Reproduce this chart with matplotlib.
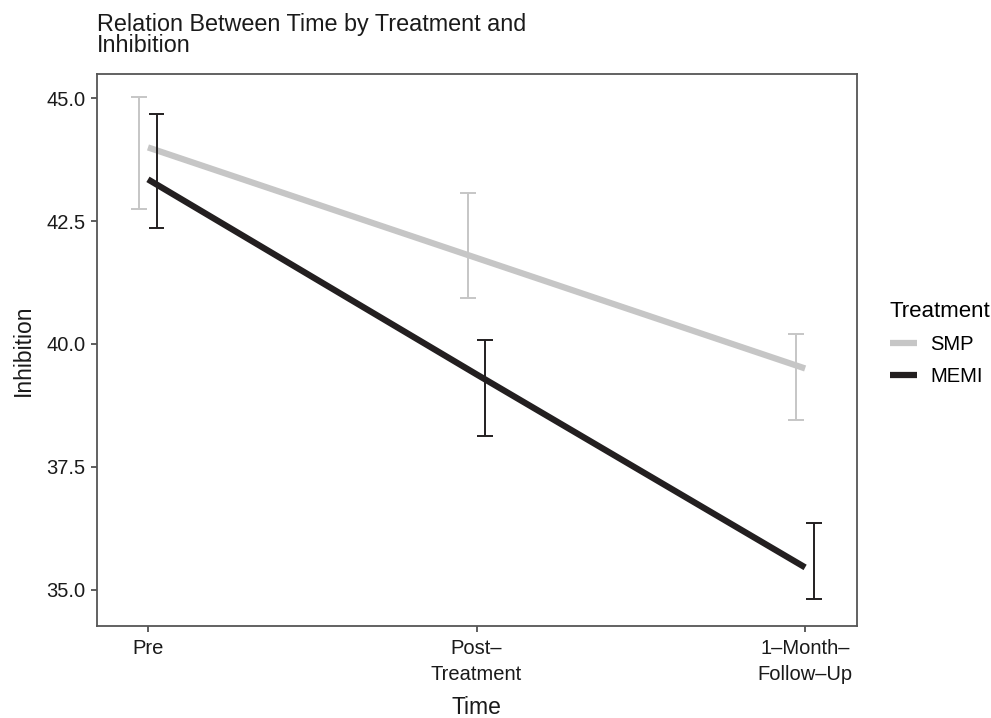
import matplotlib
matplotlib.use("Agg")
import matplotlib.pyplot as plt
import numpy as np

plt.rcParams['font.family'] = ['Liberation Sans', 'DejaVu Sans']

times = ["Pre", "Post–\nTreatment", "1–Month–\nFollow–Up"]
groups = ["SMP", "MEMI"]
means = {"SMP": [44.0, 41.75, 39.5], "MEMI": [43.35, 39.38, 35.45]}
err_low = {"SMP": [42.75, 40.94, 38.46], "MEMI": [42.35, 38.12, 34.81]}
err_high = {"SMP": [45.03, 43.07, 40.21], "MEMI": [44.69, 40.08, 36.36]}
colors = {"SMP": "#c6c6c6", "MEMI": "#231f20"}
dodge = {"SMP": -0.027, "MEMI": 0.026}
title_lines = ["Relation Between Time by Treatment and", "Inhibition"]

W, H = 991, 718
top, bottom = 73.5, 626
fig = plt.figure(figsize=(W/100, H/100), dpi=100)
ax = fig.add_axes([96.7/W, 1-bottom/H, (856.7-96.7)/W, (bottom-top)/H])

x = np.arange(len(times))
for g in groups:
    ax.plot(x, means[g], color=colors[g], lw=4.5, solid_capstyle='butt', label=g, zorder=2)
    xe = x + dodge[g]
    lo = np.array(err_low[g]); hi = np.array(err_high[g])
    ax.vlines(xe, lo, hi, color=colors[g], lw=1.4, zorder=3)
    capw = 0.024
    ax.hlines(lo, xe-capw, xe+capw, color=colors[g], lw=1.4, zorder=3)
    ax.hlines(hi, xe-capw, xe+capw, color=colors[g], lw=1.4, zorder=3)

ppu = (589.5 - 98.3) / 10.0
ax.set_xlim(-0.156, 2.157)
ax.set_ylim(35 - (bottom - 589.5)/ppu, 45 + (98.3 - top)/ppu)
ax.set_xticks(x)
ax.set_xticklabels(times, fontsize=14.5, color='#1a1a1a', linespacing=1.45)
ax.set_yticks([35.0, 37.5, 40.0, 42.5, 45.0])
ax.set_yticklabels(["35.0", "37.5", "40.0", "42.5", "45.0"], fontsize=14.5, color='#1a1a1a')
ax.tick_params(length=4, width=1.1, color='#333333', pad=4)
ax.tick_params(axis='x', pad=5.5)
for s in ax.spines.values():
    s.set_color('#555555')
    s.set_linewidth(1.3)
ax.set_xlabel("Time", fontsize=16.5, color='#1a1a1a', labelpad=8.5)
ax.set_ylabel("Inhibition", fontsize=16.5, color='#1a1a1a', labelpad=8)

fig.text(97/W, 1-31/H, title_lines[0], fontsize=16.8, color='#1a1a1a', ha='left', va='baseline')
fig.text(97/W, 1-52.5/H, title_lines[1], fontsize=16.8, color='#1a1a1a', ha='left', va='baseline')

leg = ax.legend(title="Treatment", loc='upper left', bbox_to_anchor=(890/W, 1-301/H),
                bbox_transform=fig.transFigure,
                frameon=False, fontsize=14.5, title_fontsize=16, handlelength=1.35,
                handletextpad=0.65, labelspacing=0.65, borderaxespad=0, borderpad=0)
leg._legend_box.align = "left"
for h in leg.get_lines():
    h.set_linewidth(4.5)

fig.savefig("out.png", dpi=100)
